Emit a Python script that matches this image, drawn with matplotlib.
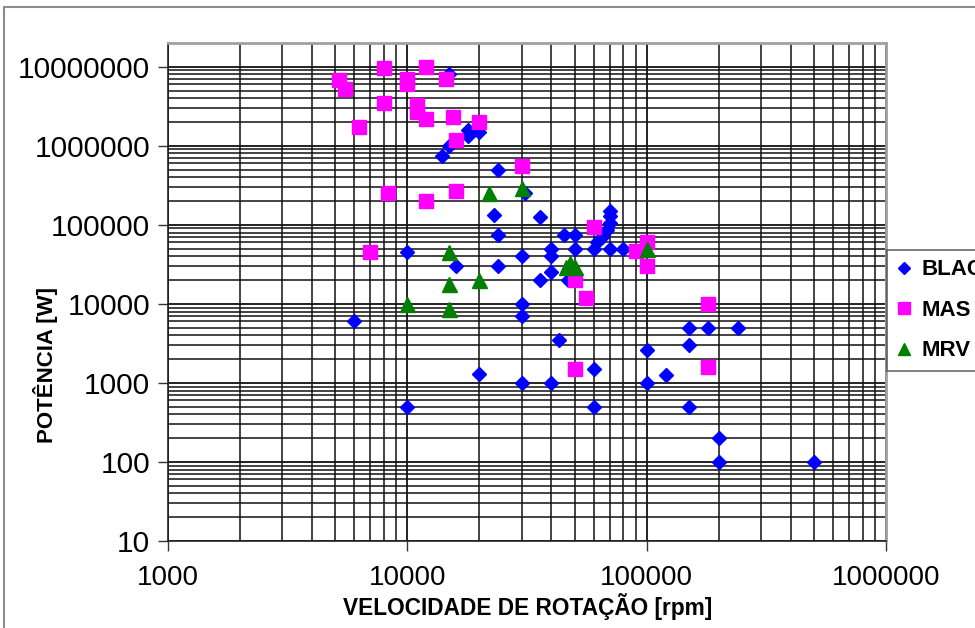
import matplotlib
matplotlib.use("Agg")
import matplotlib.pyplot as plt
from matplotlib.ticker import FixedLocator, LogLocator, FuncFormatter, NullFormatter
from matplotlib.patches import Rectangle

# ---- data ----
blac_x = [6000, 10000, 10000, 15000, 14000, 15000, 18000, 18000, 20000, 24000,
          31000, 23000, 36000, 24000, 16000, 24000, 30000, 40000, 40000, 45000,
          50000, 50000, 36000, 40000, 47000, 70000, 70000, 70000, 68000, 65000,
          62000, 60000, 70000, 80000, 30000, 30000, 43000, 20000, 30000, 40000,
          60000, 60000, 100000, 100000, 120000, 150000, 150000, 150000, 180000,
          240000, 200000, 200000, 500000]
blac_y = [6000, 45000, 500, 8e6, 750000, 1e6, 1.6e6, 1.35e6, 1.5e6, 500000,
          250000, 135000, 125000, 75000, 30000, 30000, 40000, 50000, 40000, 75000,
          75000, 50000, 20000, 25000, 20000, 150000, 130000, 105000, 85000, 70000,
          60000, 50000, 50000, 50000, 10000, 7000, 3500, 1300, 1000, 1000,
          1500, 500, 2600, 1000, 1250, 5000, 3000, 500, 5000,
          5000, 200, 100, 100]

mas_x = [8000, 12000, 5200, 5500, 10000, 10000, 14500, 8000, 11000, 11000,
         12000, 6300, 15500, 20000, 16000, 8300, 12000, 16000, 7000, 30000,
         60000, 100000, 90000, 100000, 50000, 56000, 50000, 180000, 180000]
mas_y = [9.7e6, 1e7, 6.8e6, 5.3e6, 7e6, 6e6, 7e6, 3.5e6, 3.3e6, 2.7e6,
         2.2e6, 1.75e6, 2.3e6, 2e6, 1.2e6, 250000, 200000, 270000, 46000, 550000,
         95000, 60000, 47000, 30000, 20000, 12000, 1500, 10000, 1600]

mrv_x = [22000, 30000, 15000, 10000, 15000, 15000, 20000, 46000, 48000, 50000, 100000]
mrv_y = [250000, 290000, 45000, 10000, 18000, 8500, 20000, 29000, 33000, 29000, 50000]

x_ticks = [1000, 10000, 100000, 1000000]
y_ticks = [10, 100, 1000, 10000, 100000, 1000000, 10000000]
series_names = ["BLAC", "MAS", "MRV"]

# ---- figure ----
W, H = 975, 628
fig = plt.figure(figsize=(W / 100, H / 100), dpi=100)
fig.patch.set_facecolor("white")

# outer chart frame
fig.patches.append(Rectangle((4 / W, -0.05), 1.1, 1 - 7 / H + 0.05,
                             transform=fig.transFigure, fill=False,
                             edgecolor="#8c8c8c", linewidth=1.5))

ax = fig.add_axes([168 / W, 1 - 541 / H, (886 - 168) / W, (541 - 43) / H])
ax.set_xscale("log")
ax.set_yscale("log")
ax.set_xlim(1000, 1000000)
ax.set_ylim(10, 2e7)

ax.set_axisbelow(True)
ax.xaxis.set_major_locator(FixedLocator(x_ticks))
ax.yaxis.set_major_locator(FixedLocator(y_ticks))
ax.xaxis.set_minor_locator(LogLocator(base=10, subs=range(2, 10), numticks=20))
ax.yaxis.set_minor_locator(LogLocator(base=10, subs=range(2, 10), numticks=20))
fmt = FuncFormatter(lambda v, p: "%d" % int(round(v)))
ax.xaxis.set_major_formatter(fmt)
ax.yaxis.set_major_formatter(fmt)
ax.xaxis.set_minor_formatter(NullFormatter())
ax.yaxis.set_minor_formatter(NullFormatter())

ax.grid(which="major", color="#111111", linewidth=1.3)
ax.grid(which="minor", color="#111111", linewidth=1.1)

ax.tick_params(which="major", direction="out", length=7, width=1, color="#333333")
ax.tick_params(which="minor", length=0)
ax.tick_params(axis="x", pad=10, labelsize=20)
ax.tick_params(axis="y", pad=6, labelsize=21.5)
for lab in ax.get_xticklabels() + ax.get_yticklabels():
    lab.set_fontfamily("Liberation Sans")

for s in ["left", "bottom"]:
    ax.spines[s].set_color("#222222")
    ax.spines[s].set_linewidth(1.2)
for s in ["top", "right"]:
    ax.spines[s].set_color("#a0a0a0")
    ax.spines[s].set_linewidth(2)

ax.plot(blac_x, blac_y, linestyle="none", marker="D", markersize=7.4,
        color="#0000ff", markeredgecolor="#0000ff", label=series_names[0], zorder=3)
ax.plot(mas_x, mas_y, linestyle="none", marker="s", markersize=9.8,
        color="#ff00ff", markeredgecolor="#ff00ff", label=series_names[1], zorder=4)
ax.plot(mrv_x, mrv_y, linestyle="none", marker="^", markersize=10.8,
        color="#008000", markeredgecolor="#008000", label=series_names[2], zorder=5)

label_font = "Liberation Sans"
ax.set_xlabel("VELOCIDADE DE ROTAÇÃO [rpm]", fontsize=16.3, fontweight="bold",
              family=label_font)
ax.set_ylabel("POTÊNCIA [W]", fontsize=16, fontweight="bold", family=label_font)
ax.xaxis.set_label_coords((528 - 168) / (886 - 168), -(607 - 541) / (541 - 43))
ax.yaxis.set_label_coords(-(168 - 45) / (886 - 168), (541 - 365) / (541 - 43))
ax.xaxis.label.set_va("center")
ax.yaxis.label.set_va("center")

leg = fig.legend(loc="upper left", bbox_to_anchor=(887 / W, 1 - 250 / H),
                 frameon=True, fancybox=False, edgecolor="#444444",
                 prop={"family": label_font, "weight": "bold", "size": 16},
                 handlelength=0.7, handletextpad=0.45, labelspacing=0.88,
                 borderpad=0.42, borderaxespad=0, markerscale=0.85)
leg.get_frame().set_linewidth(1.2)

fig.savefig("out.png", dpi=100, facecolor="white")
